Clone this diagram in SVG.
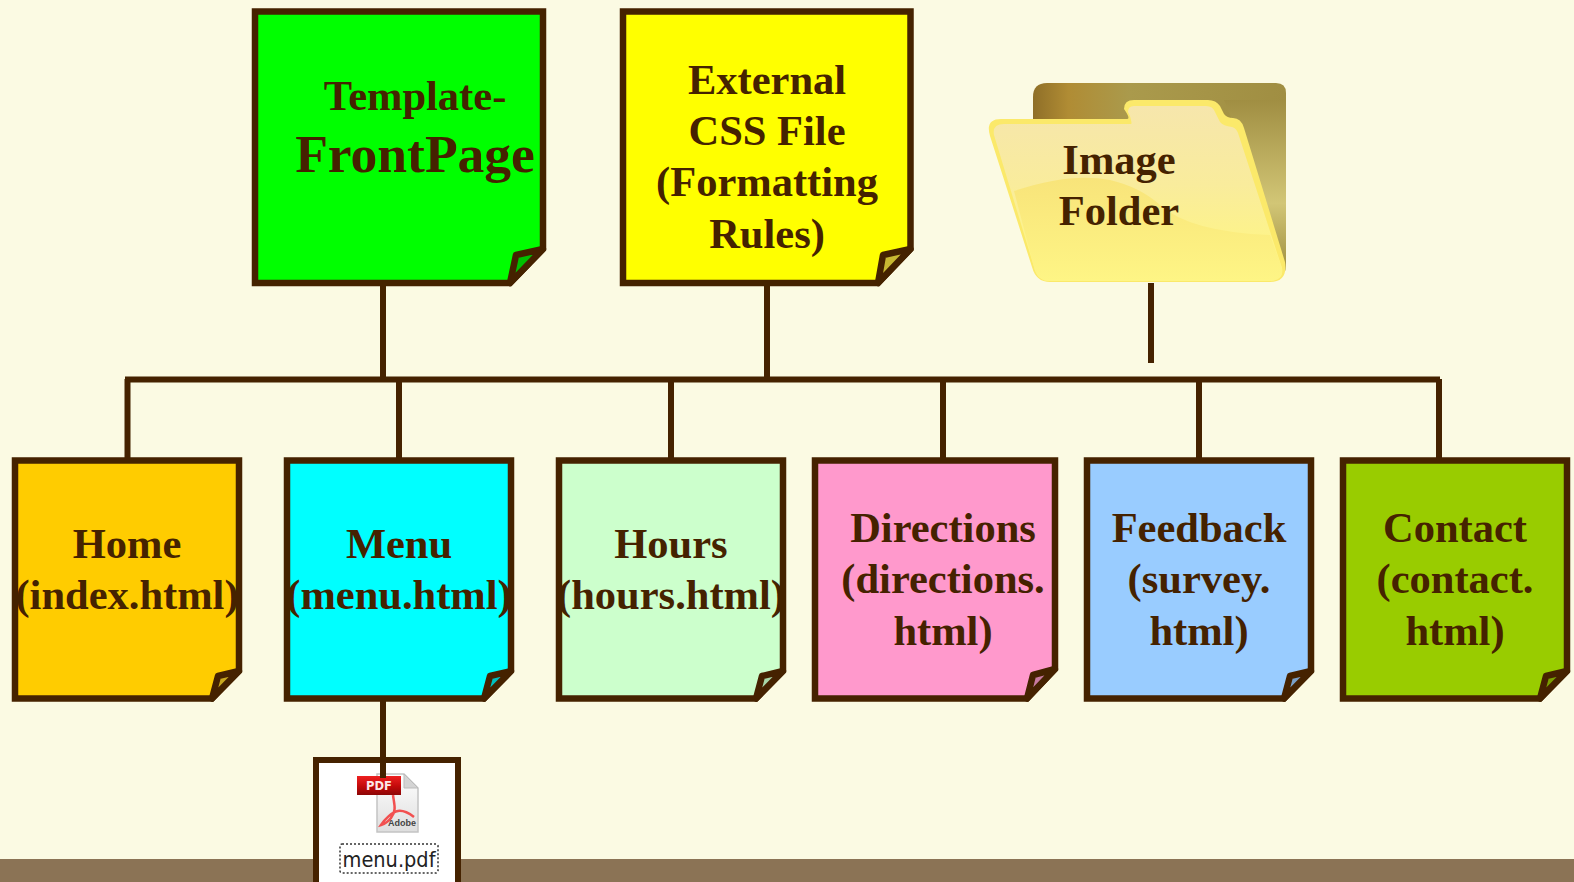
<svg xmlns="http://www.w3.org/2000/svg" width="1574" height="882" viewBox="0 0 1574 882">
<style>
.n{stroke:#452200;stroke-width:6.500;stroke-linejoin:miter}
.f{stroke:#452200;stroke-width:6.500;stroke-linejoin:round}
.t{font-family:"Liberation Serif","Times New Roman",serif;font-weight:bold;font-size:42.500px;fill:#452200;text-anchor:middle}
.c{stroke:#452200;stroke-width:6;fill:none}
</style>
<defs>
<linearGradient id="bk" x1="0" y1="0" x2="1" y2="0"><stop offset="0" stop-color="#8f6f28"/><stop offset=".14" stop-color="#b08c34"/><stop offset=".38" stop-color="#aa9a4c"/><stop offset="1" stop-color="#a08e42"/></linearGradient>
<linearGradient id="bk2" x1="0" y1="0" x2="0" y2="1"><stop offset="0" stop-color="#a08e42"/><stop offset=".6" stop-color="#d2c676"/><stop offset="1" stop-color="#9e8e3e"/></linearGradient>
<linearGradient id="fr" x1="0" y1="0" x2="0" y2="1"><stop offset="0" stop-color="#f6e6ac"/><stop offset=".45" stop-color="#f9ec9c"/><stop offset=".85" stop-color="#fef585"/><stop offset="1" stop-color="#fdf285"/></linearGradient>
<linearGradient id="wv" x1="0" y1="0" x2="0" y2="1"><stop offset="0" stop-color="#f8e47a"/><stop offset="1" stop-color="#fef585"/></linearGradient>
<linearGradient id="rd" x1="0" y1="0" x2="0" y2="1"><stop offset="0" stop-color="#ee2020"/><stop offset=".55" stop-color="#c20a0a"/><stop offset="1" stop-color="#8c0606"/></linearGradient>
<linearGradient id="pg" x1="0" y1="0" x2="0" y2="1"><stop offset="0" stop-color="#fff"/><stop offset="1" stop-color="#dedede"/></linearGradient>
</defs>
<rect width="1574" height="882" fill="#fbfae3"/>
<rect y="859" width="1574" height="23" fill="#8b7355"/>
<g id="node-template">
<path class="n" fill="#00ff00" d="M255 11.500H543V249L510 283H255Z"/>
<path class="f" fill="#00c000" d="M510 283L516 255L543 249Z"/>
<text class="t" x="415" y="110">Template-</text>
<text class="t" x="415" y="172" style="font-size:53.500px">FrontPage</text>
</g>
<g id="node-css">
<path class="n" fill="#ffff00" d="M623 11.500H910.500V249L878 283H623Z"/>
<path class="f" fill="#c8b832" d="M878 283L883 255L910.500 249Z"/>
<text class="t" x="767" y="94">External</text>
<text class="t" x="767" y="145">CSS File</text>
<text class="t" x="767" y="196">(Formatting</text>
<text class="t" x="767" y="248">Rules)</text>
</g>
<g id="node-folder">
<path fill="url(#bk)" d="M1033 150V97Q1033 83 1047 83H1276Q1286 83 1286 93V150Z"/>
<path fill="url(#bk2)" d="M1224 100H1286V262Q1286 272 1284 272L1240 140Z"/>
<path fill="#fbe96a" d="M1001 119H1127Q1131 119 1124 109Q1124 100 1134 100H1208Q1216 100 1220 106L1224 114Q1227 118 1233 118Q1241 118 1244 128L1285 262Q1288 282 1270 282H1050Q1036 282 1032 267L990 136Q985 119 1001 119Z"/>
<path fill="url(#fr)" d="M1004 124H1131Q1132 124 1131 120Q1130 115 1128 112Q1128 106 1134 106H1206Q1213 106 1215 112L1220 122Q1223 126 1232 127Q1236 128 1238 133L1282 268Q1284 281 1268 281H1050Q1037 281 1034 267L994 135Q992 124 1004 124Z"/>
<path fill="url(#wv)" d="M1014 191Q1070 172 1110 180Q1140 187 1160 205Q1190 232 1270 235L1282 268Q1284 281 1268 281H1050Q1037 281 1034 267Z"/>
<text class="t" x="1119" y="174">Image</text>
<text class="t" x="1119" y="225">Folder</text>
</g>
<g id="node-home">
<path class="n" fill="#ffcc00" d="M15 460.500H239V671L212 698.500H15Z"/>
<path class="f" fill="#c8a820" d="M212 698.500L218 676L239 671Z"/>
<text class="t" x="127" y="558">Home</text>
<text class="t" x="127" y="609">(index.html)</text>
</g>
<g id="node-menu">
<path class="n" fill="#00ffff" d="M287 460.500H511V671L484 698.500H287Z"/>
<path class="f" fill="#00c0c0" d="M484 698.500L490 676L511 671Z"/>
<text class="t" x="399" y="558">Menu</text>
<text class="t" x="399" y="609">(menu.html)</text>
</g>
<g id="node-hours">
<path class="n" fill="#ccffcc" d="M559 460.500H783V671L756 698.500H559Z"/>
<path class="f" fill="#a8d8a8" d="M756 698.500L762 676L783 671Z"/>
<text class="t" x="671" y="558">Hours</text>
<text class="t" x="671" y="609">(hours.html)</text>
</g>
<g id="node-directions">
<path class="n" fill="#ff99cc" d="M815 460.500H1055V669L1027 698.500H815Z"/>
<path class="f" fill="#c87aa0" d="M1027 698.500L1033 675L1055 669Z"/>
<text class="t" x="943" y="542">Directions</text>
<text class="t" x="943" y="593">(directions.</text>
<text class="t" x="943" y="645">html)</text>
</g>
<g id="node-feedback">
<path class="n" fill="#99ccff" d="M1087 460.500H1311V671L1284 698.500H1087Z"/>
<path class="f" fill="#7aa0c8" d="M1284 698.500L1290 676L1311 671Z"/>
<text class="t" x="1199" y="542">Feedback</text>
<text class="t" x="1199" y="593">(survey.</text>
<text class="t" x="1199" y="645">html)</text>
</g>
<g id="node-contact">
<path class="n" fill="#99cc00" d="M1343 460.500H1567V671L1540 698.500H1343Z"/>
<path class="f" fill="#7aa000" d="M1540 698.500L1546 676L1567 671Z"/>
<text class="t" x="1455" y="542">Contact</text>
<text class="t" x="1455" y="593">(contact.</text>
<text class="t" x="1455" y="645">html)</text>
</g>
<g id="node-pdf">
<rect x="316" y="760" width="142" height="130" fill="#fff" stroke="#452200" stroke-width="6"/>
<path fill="url(#pg)" stroke="#c4c4c4" stroke-width="1.500" d="M377 774H404L418 788V832H377Z"/>
<path fill="#d4d4d4" stroke="#bbb" d="M404 774V788H418Z"/>
<path fill="none" stroke="#f25050" stroke-width="2.500" d="M393 795C394 804 397 810 391 818C388 822 384 824 381 825C385 819 392 812 398 811C404 810 410 814 414 817"/>
<text x="402" y="826" style="font-family:'Liberation Sans',Arial,sans-serif;font-size:9px;font-weight:bold;fill:#444;text-anchor:middle">Adobe</text>
<rect x="357" y="776" width="44" height="19" fill="url(#rd)"/>
<text x="379" y="790" style="font-family:'DejaVu Sans',sans-serif;font-size:11.500px;font-weight:bold;fill:#fde8e8;text-anchor:middle">PDF</text>
<rect x="340" y="844" width="98" height="29" rx="2" fill="#fff" stroke="#333" stroke-width="1.500" stroke-dasharray="2 2"/>
<text x="389" y="867" textLength="93" lengthAdjust="spacingAndGlyphs" style="font-family:'DejaVu Sans',sans-serif;font-size:21px;fill:#222;text-anchor:middle">menu.pdf</text>
</g>
<g id="connectors">
<path class="c" d="M125 379.500H1440M127.500 379V458M399 379V458M671 379V458M943 379V458M1199 379V458M1439 379V458M383 286V379M767 286V379M1151 283V363M383 701V778"/>
</g>
</svg>
